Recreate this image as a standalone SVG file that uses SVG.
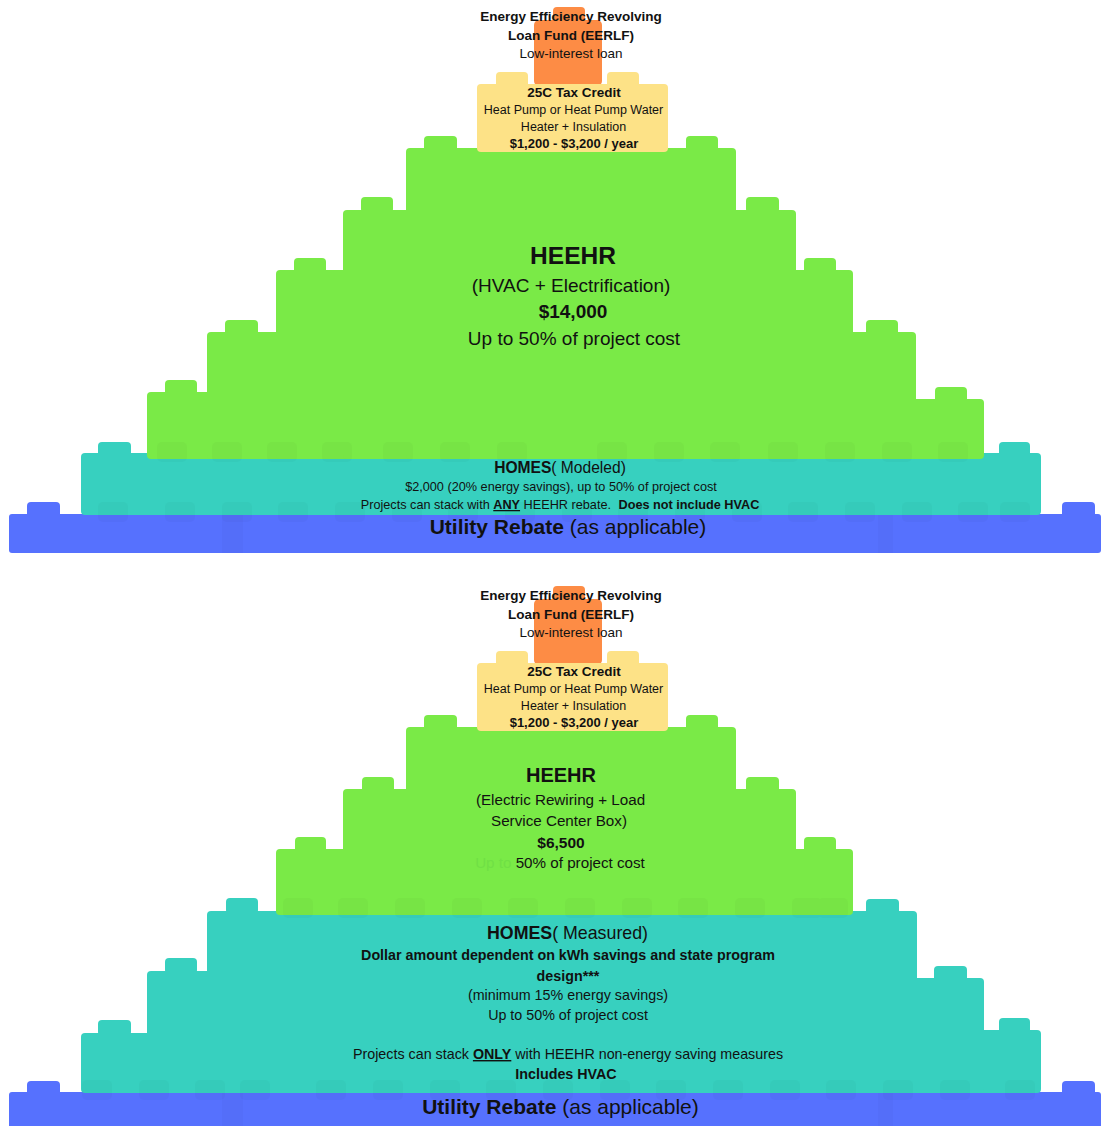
<svg xmlns="http://www.w3.org/2000/svg" width="1101" height="1126" viewBox="0 0 1101 1126">
<style>
.or{fill:#fd8c45}.ye{fill:#fde287}.gr{fill:#7aea47}.te{fill:#37d0bf}.bl{fill:#5671fe}
.stud{fill:#000;opacity:0.018}
.band{fill:#000;opacity:0.018}
text{font-family:"Liberation Sans",Arial,Helvetica,sans-serif;fill:#111;text-anchor:middle}
.b{font-weight:bold}
.u{text-decoration:underline}
.ghost{fill:#70e045}
</style>
<defs>
<rect id="stud" width="30" height="20" rx="5"/>
</defs>
<rect width="1101" height="1126" fill="#ffffff"/>

<!-- ================= TOP PYRAMID ================= -->
<g id="utility-top">
<rect class="bl" x="27" y="502" width="33" height="16" rx="4"/>
<rect class="bl" x="1062" y="502" width="33" height="16" rx="4"/>
<rect class="bl" x="9" y="514" width="1092" height="39" rx="3"/>
<rect class="band" x="222" y="514" width="21" height="39"/>
<rect class="band" x="878" y="514" width="15" height="39"/>
<text x="568" y="534" font-size="21"><tspan class="b">Utility Rebate</tspan> (as applicable)</text>
</g>

<g id="homes-modeled">
<rect class="te" x="98" y="442" width="33" height="15" rx="4"/>
<rect class="te" x="999" y="442" width="31" height="15" rx="4"/>
<rect class="te" x="81" y="453" width="960" height="62" rx="4"/>
<g class="stud">
<use href="#stud" x="98" y="502"/><use href="#stud" x="165" y="502"/><use href="#stud" x="222" y="502"/><use href="#stud" x="278" y="502"/><use href="#stud" x="335" y="502"/><use href="#stud" x="392" y="502"/><use href="#stud" x="448" y="502"/><use href="#stud" x="505" y="502"/><use href="#stud" x="562" y="502"/><use href="#stud" x="618" y="502"/><use href="#stud" x="675" y="502"/><use href="#stud" x="732" y="502"/><use href="#stud" x="788" y="502"/><use href="#stud" x="845" y="502"/><use href="#stud" x="902" y="502"/><use href="#stud" x="958" y="502"/><use href="#stud" x="1000" y="502"/>
</g>
<text x="560" y="473" font-size="15.6"><tspan class="b">HOMES</tspan>( Modeled)</text>
<text x="561" y="491" font-size="12.7">$2,000 (20% energy savings), up to 50% of project cost</text>
<text x="560" y="509" font-size="12.7">Projects can stack with <tspan class="b u">ANY</tspan> HEEHR rebate. <tspan class="b" dx="4">Does not include HVAC</tspan></text>
</g>

<g id="heehr-hvac">
<rect class="gr" x="165" y="380" width="32" height="16" rx="4"/>
<rect class="gr" x="935" y="387" width="32" height="16" rx="4"/>
<rect class="gr" x="147" y="392" width="420" height="67" rx="4"/>
<rect class="gr" x="560" y="399" width="424" height="60" rx="4"/>
<rect class="gr" x="225" y="320" width="33" height="16" rx="4"/>
<rect class="gr" x="866" y="320" width="32" height="16" rx="4"/>
<rect class="gr" x="207" y="332" width="709" height="127" rx="4"/>
<rect class="gr" x="294" y="258" width="32" height="16" rx="4"/>
<rect class="gr" x="804" y="258" width="32" height="16" rx="4"/>
<rect class="gr" x="276" y="270" width="577" height="189" rx="4"/>
<rect class="gr" x="361" y="197" width="32" height="16" rx="4"/>
<rect class="gr" x="746" y="197" width="33" height="16" rx="4"/>
<rect class="gr" x="343" y="210" width="453" height="249" rx="4"/>
<rect class="gr" x="424" y="136" width="33" height="16" rx="4"/>
<rect class="gr" x="686" y="136" width="32" height="16" rx="4"/>
<rect class="gr" x="406" y="148" width="330" height="311" rx="4"/>
<g class="stud">
<use href="#stud" x="157" y="442"/><use href="#stud" x="212" y="442"/><use href="#stud" x="267" y="442"/><use href="#stud" x="322" y="442"/><use href="#stud" x="383" y="442"/><use href="#stud" x="440" y="442"/><use href="#stud" x="497" y="442"/><use href="#stud" x="597" y="442"/><use href="#stud" x="654" y="442"/><use href="#stud" x="710" y="442"/><use href="#stud" x="768" y="442"/><use href="#stud" x="825" y="442"/><use href="#stud" x="882" y="442"/><use href="#stud" x="938" y="442"/>
</g>
<text x="573" y="264" font-size="24.5" class="b">HEEHR</text>
<text x="571" y="292" font-size="19">(HVAC + Electrification)</text>
<text x="573" y="318" font-size="19" class="b">$14,000</text>
<text x="574" y="345" font-size="19">Up to 50% of project cost</text>
</g>

<g id="eerlf-top">
<rect class="or" x="553" y="7" width="32" height="18" rx="4"/>
<rect class="or" x="534" y="20" width="68" height="66" rx="5"/>
</g>

<g id="tax-credit-top">
<rect class="ye" x="496" y="72" width="32" height="16" rx="4"/>
<rect class="ye" x="607" y="72" width="32" height="16" rx="4"/>
<rect class="ye" x="477" y="84" width="191" height="68" rx="4"/>
<text x="574" y="97" font-size="13.5" class="b">25C Tax Credit</text>
<text x="573.5" y="114" font-size="12.5">Heat Pump or Heat Pump Water</text>
<text x="573.5" y="131" font-size="12.5">Heater + Insulation</text>
<text x="574" y="148" font-size="13" class="b">$1,200 - $3,200 / year</text>
</g>

<g id="eerlf-top-text">
<text x="571" y="21" font-size="13.5" class="b">Energy Efficiency Revolving</text>
<text x="571" y="40" font-size="13.5" class="b">Loan Fund (EERLF)</text>
<text x="571" y="58" font-size="13.5">Low-interest loan</text>
</g>

<!-- ================= BOTTOM PYRAMID ================= -->
<g id="utility-bottom">
<rect class="bl" x="27" y="1081" width="33" height="16" rx="4"/>
<rect class="bl" x="1062" y="1081" width="33" height="16" rx="4"/>
<rect class="bl" x="9" y="1092" width="1092" height="40" rx="3"/>
<rect class="band" x="222" y="1092" width="21" height="34"/>
<rect class="band" x="878" y="1092" width="15" height="34"/>
<text x="560.5" y="1114" font-size="21"><tspan class="b">Utility Rebate</tspan> (as applicable)</text>
</g>

<g id="homes-measured">
<rect class="te" x="98" y="1020" width="33" height="16" rx="4"/>
<rect class="te" x="999" y="1018" width="31" height="16" rx="4"/>
<rect class="te" x="81" y="1033" width="480" height="60" rx="4"/>
<rect class="te" x="555" y="1030" width="486" height="63" rx="4"/>
<rect class="te" x="165" y="958" width="32" height="16" rx="4"/>
<rect class="te" x="934" y="966" width="33" height="16" rx="4"/>
<rect class="te" x="147" y="971" width="420" height="122" rx="4"/>
<rect class="te" x="560" y="978" width="424" height="115" rx="4"/>
<rect class="te" x="226" y="898" width="32" height="16" rx="4"/>
<rect class="te" x="866" y="899" width="33" height="16" rx="4"/>
<rect class="te" x="207" y="911" width="710" height="182" rx="4"/>
<g class="stud">
<use href="#stud" x="82" y="1080"/><use href="#stud" x="139" y="1080"/><use href="#stud" x="195" y="1080"/><use href="#stud" x="240" y="1080"/><use href="#stud" x="316" y="1080"/><use href="#stud" x="373" y="1080"/><use href="#stud" x="430" y="1080"/><use href="#stud" x="486" y="1080"/><use href="#stud" x="543" y="1080"/><use href="#stud" x="600" y="1080"/><use href="#stud" x="656" y="1080"/><use href="#stud" x="713" y="1080"/><use href="#stud" x="770" y="1080"/><use href="#stud" x="826" y="1080"/><use href="#stud" x="883" y="1080"/><use href="#stud" x="940" y="1080"/><use href="#stud" x="1005" y="1080"/>
</g>
<text x="567.5" y="939" font-size="17.8"><tspan class="b">HOMES</tspan>( Measured)</text>
<text x="568" y="960" font-size="14.3" class="b">Dollar amount dependent on kWh savings and state program</text>
<text x="568" y="981" font-size="14.3" class="b">design***</text>
<text x="568" y="1000" font-size="14.3">(minimum 15% energy savings)</text>
<text x="568" y="1020" font-size="14.3">Up to 50% of project cost</text>
<text x="568" y="1059" font-size="14.3">Projects can stack <tspan class="b u">ONLY</tspan> with HEEHR non-energy saving measures</text>
<text x="566" y="1079" font-size="14.3" class="b">Includes HVAC</text>
</g>

<g id="heehr-rewiring">
<rect class="gr" x="295" y="837" width="31" height="16" rx="4"/>
<rect class="gr" x="804" y="837" width="32" height="16" rx="4"/>
<rect class="gr" x="276" y="849" width="577" height="66" rx="4"/>
<rect class="gr" x="362" y="777" width="32" height="16" rx="4"/>
<rect class="gr" x="746" y="777" width="33" height="16" rx="4"/>
<rect class="gr" x="343" y="789" width="453" height="126" rx="4"/>
<rect class="gr" x="424" y="715" width="33" height="16" rx="4"/>
<rect class="gr" x="686" y="715" width="32" height="16" rx="4"/>
<rect class="gr" x="406" y="727" width="330" height="188" rx="4"/>
<g class="stud">
<use href="#stud" x="283" y="898"/><use href="#stud" x="338" y="898"/><use href="#stud" x="395" y="898"/><use href="#stud" x="452" y="898"/><use href="#stud" x="508" y="898"/><use href="#stud" x="565" y="898"/><use href="#stud" x="622" y="898"/><use href="#stud" x="678" y="898"/><use href="#stud" x="735" y="898"/><use href="#stud" x="792" y="898"/><use href="#stud" x="818" y="898"/>
</g>
<text x="561" y="782" font-size="20" class="b">HEEHR</text>
<text x="560.5" y="805" font-size="15.2">(Electric Rewiring + Load</text>
<text x="559" y="826" font-size="15.2">Service Center Box)</text>
<text x="561" y="848" font-size="15.5" class="b">$6,500</text>
<text x="560" y="868" font-size="15.2"><tspan class="ghost">Up to </tspan>50% of project cost</text>
</g>

<g id="eerlf-bottom">
<rect class="or" x="553" y="586" width="32" height="18" rx="4"/>
<rect class="or" x="534" y="599" width="68" height="66" rx="5"/>
</g>

<g id="tax-credit-bottom">
<rect class="ye" x="496" y="651" width="32" height="16" rx="4"/>
<rect class="ye" x="607" y="651" width="32" height="16" rx="4"/>
<rect class="ye" x="477" y="663" width="191" height="68" rx="4"/>
<text x="574" y="676" font-size="13.5" class="b">25C Tax Credit</text>
<text x="573.5" y="693" font-size="12.5">Heat Pump or Heat Pump Water</text>
<text x="573.5" y="710" font-size="12.5">Heater + Insulation</text>
<text x="574" y="727" font-size="13" class="b">$1,200 - $3,200 / year</text>
</g>

<g id="eerlf-bottom-text">
<text x="571" y="600" font-size="13.5" class="b">Energy Efficiency Revolving</text>
<text x="571" y="619" font-size="13.5" class="b">Loan Fund (EERLF)</text>
<text x="571" y="637" font-size="13.5">Low-interest loan</text>
</g>

<g id="connectors"></g>
</svg>
